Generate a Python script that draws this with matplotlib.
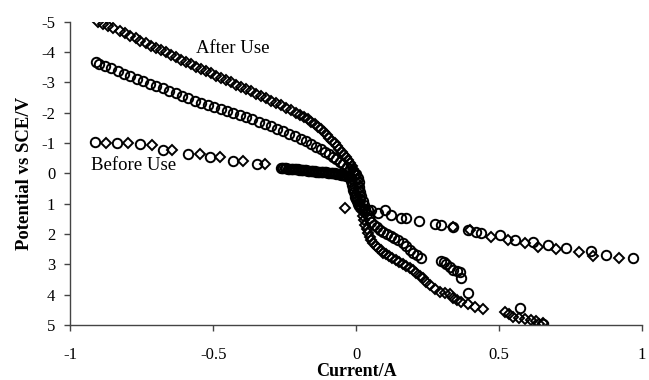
import numpy as np
import matplotlib
matplotlib.use('Agg')
import matplotlib.pyplot as plt

plt.rcParams['font.family'] = 'Liberation Serif'
plt.rcParams['axes.unicode_minus'] = False

# diamonds, after use (upper branch, then lower branch)
after_dia_x = [-0.905, -0.885, -0.868, -0.850, -0.828, -0.810, -0.790, -0.772, -0.755, -0.735,
               -0.718, -0.700, -0.683, -0.665, -0.648, -0.630, -0.612, -0.595, -0.578, -0.560,
               -0.543, -0.525, -0.508, -0.490, -0.473, -0.455, -0.438, -0.420, -0.403, -0.385,
               -0.368, -0.350, -0.333, -0.315, -0.298, -0.280, -0.263, -0.245, -0.228, -0.212,
               -0.197, -0.183, -0.170, -0.158, -0.146, -0.135, -0.124, -0.114, -0.104, -0.094,
               -0.085, -0.076, -0.067, -0.059, -0.051, -0.043, -0.036, -0.029, -0.022, -0.016,
               -0.010, -0.005, 0.000,
               0.003, 0.006, 0.008, 0.010, 0.012, 0.014, 0.017, 0.020, 0.023, 0.027,
               0.031, 0.036, 0.041, 0.047, 0.053, 0.060, 0.068, 0.077, 0.086, 0.095,
               0.105, 0.115, 0.126, 0.138, 0.150, 0.163, 0.175, 0.187, 0.198, 0.210,
               0.222, 0.233, 0.245, 0.257, 0.275, 0.292, 0.310, 0.327, 0.338, 0.352,
               0.367, 0.390, 0.414, 0.442, 0.519, 0.534, 0.548, 0.570, 0.589, 0.610,
               0.630, 0.638, 0.652]
after_dia_y = [-5.00, -4.93, -4.86, -4.78, -4.70, -4.62, -4.53, -4.45, -4.37, -4.29,
               -4.21, -4.14, -4.06, -3.99, -3.91, -3.83, -3.75, -3.68, -3.60, -3.52,
               -3.44, -3.37, -3.30, -3.22, -3.15, -3.07, -3.00, -2.92, -2.85, -2.77,
               -2.70, -2.62, -2.55, -2.48, -2.40, -2.32, -2.24, -2.16, -2.08, -2.00,
               -1.93, -1.85, -1.78, -1.70, -1.62, -1.54, -1.45, -1.36, -1.27, -1.18,
               -1.08, -0.99, -0.90, -0.81, -0.72, -0.62, -0.53, -0.44, -0.34, -0.25,
               -0.15, -0.05, 0.05,
               0.20, 0.35, 0.50, 0.65, 0.80, 0.95, 1.10, 1.25, 1.40, 1.55,
               1.70, 1.85, 1.98, 2.10, 2.20, 2.30, 2.38, 2.46, 2.54, 2.61,
               2.67, 2.74, 2.80, 2.86, 2.92, 2.98, 3.04, 3.12, 3.20, 3.29,
               3.37, 3.46, 3.57, 3.68, 3.80, 3.90, 3.93, 3.97, 4.10, 4.17,
               4.23, 4.31, 4.41, 4.48, 4.57, 4.65, 4.72, 4.76, 4.80, 4.84,
               4.86, 4.98, 4.95]

# circles, after use
after_cir_x = [-0.910, -0.900, -0.880, -0.858, -0.835, -0.812, -0.790, -0.767, -0.745, -0.722,
               -0.700, -0.677, -0.655, -0.632, -0.610, -0.587, -0.565, -0.542, -0.520, -0.497,
               -0.475, -0.452, -0.430, -0.408, -0.386, -0.364, -0.342, -0.320, -0.298, -0.276,
               -0.255, -0.234, -0.214, -0.195, -0.176, -0.158, -0.141, -0.125, -0.110, -0.096,
               -0.083, -0.070, -0.058, -0.046, -0.034, -0.022, -0.011, 0.000,
               0.005, 0.008, 0.011, 0.014, 0.018, 0.022, 0.027, 0.032, 0.038, 0.045,
               0.053, 0.062, 0.072, 0.083, 0.095, 0.108, 0.120, 0.133, 0.147, 0.163,
               0.175, 0.187, 0.200, 0.211, 0.228, 0.297, 0.308, 0.315, 0.327, 0.337,
               0.352, 0.362, 0.367, 0.390, 0.572, 0.652]
after_cir_y = [-3.68, -3.62, -3.54, -3.46, -3.38, -3.29, -3.20, -3.12, -3.04, -2.96,
               -2.88, -2.80, -2.72, -2.64, -2.56, -2.48, -2.40, -2.33, -2.26, -2.19,
               -2.12, -2.06, -1.99, -1.92, -1.85, -1.78, -1.70, -1.63, -1.55, -1.47,
               -1.39, -1.31, -1.22, -1.14, -1.06, -0.97, -0.88, -0.80, -0.71, -0.63,
               -0.54, -0.46, -0.38, -0.30, -0.22, -0.14, -0.06, 0.02,
               0.15, 0.30, 0.45, 0.60, 0.75, 0.90, 1.05, 1.20, 1.35, 1.48,
               1.60, 1.70, 1.78, 1.86, 1.93, 2.00, 2.06, 2.12, 2.19, 2.30,
               2.40, 2.52, 2.61, 2.69, 2.79, 2.88, 2.93, 2.98, 3.08, 3.19,
               3.22, 3.26, 3.46, 3.94, 4.45, 4.97]

# diamonds, before use
before_dia_x = [-0.877, -0.800, -0.716, -0.643, -0.548, -0.478, -0.398, -0.321,
                -0.040, 0.337, 0.397, 0.472, 0.530, 0.589, 0.635, 0.700, 0.780,
                0.830, 0.921]
before_dia_y = [-1.01, -0.99, -0.93, -0.76, -0.63, -0.53, -0.40, -0.30,
                1.15, 1.76, 1.87, 2.09, 2.20, 2.31, 2.42, 2.50, 2.58,
                2.73, 2.80]

# circles, before use: left row, dense band, right row
before_cir_x = [-0.915, -0.838, -0.758, -0.677, -0.590, -0.513, -0.433, -0.349,
                -0.265, -0.260, -0.255, -0.250, -0.245, -0.240, -0.235, -0.230, -0.225, -0.220,
                -0.215, -0.210, -0.205, -0.200, -0.195, -0.190, -0.185, -0.180, -0.175, -0.170,
                -0.165, -0.160, -0.155, -0.150, -0.145, -0.140, -0.135, -0.130, -0.125, -0.120,
                -0.115, -0.110, -0.105, -0.100, -0.095, -0.090, -0.085, -0.080, -0.075, -0.070,
                -0.065, -0.060, -0.055, -0.050, -0.045, -0.040, -0.035, -0.030, -0.025, -0.020,
                -0.018, -0.016, -0.014, -0.012, -0.010, -0.008, -0.006, -0.004, -0.001, 0.002,
                0.006, 0.010, 0.015, 0.022, 0.030, 0.040,
                0.052, 0.075, 0.100, 0.122, 0.157, 0.175, 0.220, 0.274, 0.297, 0.337,
                0.390, 0.420, 0.437, 0.502, 0.554, 0.617, 0.670, 0.735, 0.822, 0.875,
                0.968]
before_cir_y = [-1.02, -1.00, -0.97, -0.78, -0.63, -0.53, -0.40, -0.30,
                -0.19, -0.18, -0.18, -0.17, -0.17, -0.16, -0.16, -0.15, -0.15, -0.14,
                -0.14, -0.13, -0.13, -0.12, -0.12, -0.11, -0.11, -0.10, -0.10, -0.09,
                -0.09, -0.08, -0.08, -0.07, -0.07, -0.06, -0.06, -0.05, -0.05, -0.04,
                -0.04, -0.03, -0.03, -0.02, -0.02, -0.01, -0.01, 0.00, 0.00, 0.01,
                0.02, 0.03, 0.04, 0.05, 0.06, 0.07, 0.08, 0.10, 0.12, 0.15,
                0.25, 0.32, 0.40, 0.48, 0.55, 0.62, 0.70, 0.78, 0.85, 0.92,
                1.00, 1.06, 1.11, 1.16, 1.19, 1.21,
                1.21, 1.31, 1.21, 1.37, 1.48, 1.48, 1.57, 1.67, 1.70, 1.76,
                1.87, 1.92, 1.98, 2.03, 2.20, 2.25, 2.36, 2.47, 2.55, 2.69,
                2.80]

x_ticks = [-1, -0.5, 0, 0.5, 1]
x_tick_labels = ['-1', '-0.5', '0', '0.5', '1']
y_ticks = [-5, -4, -3, -2, -1, 0, 1, 2, 3, 4, 5]
y_tick_labels = ['-5', '-4', '-3', '-2', '-1', '0', '1', '2', '3', '4', '5']

fig = plt.figure(figsize=(6.49, 3.80), dpi=100)
ax = fig.add_axes([0.1086, 0.1447, 0.8806, 0.7982])

circ = dict(linestyle='none', marker='o', markersize=6.8, mfc='none', mec='black', mew=1.4)
diam = dict(linestyle='none', marker='D', markersize=4.8, mfc='none', mec='black', mew=1.4)

ax.plot(before_cir_x, before_cir_y, **circ)
ax.plot(after_cir_x, after_cir_y, **circ)
ax.plot(before_dia_x, before_dia_y, **diam)
ax.plot(after_dia_x, after_dia_y, **diam)

ax.set_xlim(-1, 1)
ax.set_ylim(5, -5)
ax.set_xticks(x_ticks)
ax.set_xticklabels(x_tick_labels)
ax.set_yticks(y_ticks)
ax.set_yticklabels(y_tick_labels)

for s in ['top', 'right']:
    ax.spines[s].set_visible(False)
for s in ['left', 'bottom']:
    ax.spines[s].set_color('#444444')
    ax.spines[s].set_linewidth(1.0)
ax.tick_params(axis='x', direction='out', length=4, width=1, color='#444444', pad=12, labelsize=12)
ax.tick_params(axis='y', direction='out', length=4, width=1, color='#444444', pad=7, labelsize=12)

ax.set_xlabel('Current/A', fontsize=13, fontweight='bold', labelpad=0)
ax.set_ylabel('Potential vs SCE/V', fontsize=13.5, fontweight='bold', labelpad=6)

ax.text(-0.559, -3.96, 'After Use', fontsize=13.5, va='baseline', ha='left')
ax.text(-0.927, -0.11, 'Before Use', fontsize=13.5, va='baseline', ha='left')

fig.savefig('out.png', dpi=100)
